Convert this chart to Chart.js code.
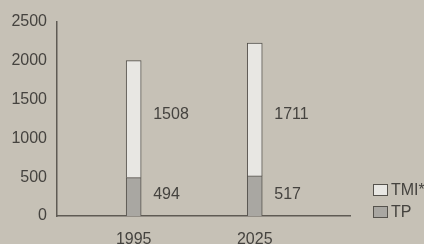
<!DOCTYPE html>
<html>
<head>
<meta charset="utf-8">
<script src="https://cdn.jsdelivr.net/npm/chart.js@4"></script>
<style>
  body { margin: 0; background: #c6c1b6; }
  #wrap { position: relative; width: 424px; height: 244px; }
  .leg { position: absolute; left: 373px; font: 16px "Liberation Sans", Arial, sans-serif; color: #45433f; white-space: nowrap; }
  .leg span { display: inline-block; width: 13px; height: 10px; border: 1px solid #55524c; margin-right: 3px; vertical-align: -1px; }
</style>
</head>
<body>
<div id="wrap">
  <canvas id="chart" width="424" height="244"></canvas>
  <div class="leg" style="top:181px"><span style="background:#e8e7e3"></span>TMI*</div>
  <div class="leg" style="top:203px"><span style="background:#a9a7a2"></span>TP</div>
</div>
<script>
const years = [1995, 2025];
const tpValues = [494, 517];
const tmiValues = [1508, 1711];
const yTicks = [0, 500, 1000, 1500, 2000, 2500];

const textColor = "#45433f";
const axisColor = "#5f5b54";

// numbers next to each bar segment
const sideLabels = {
  id: "sideLabels",
  afterDatasetsDraw(chart) {
    const ctx = chart.ctx;
    const y = chart.scales.y;
    ctx.save();
    ctx.font = '16px "Liberation Sans", Arial, sans-serif';
    ctx.fillStyle = textColor;
    ctx.textBaseline = "middle";
    const meta = chart.getDatasetMeta(0);
    meta.data.forEach((bar, i) => {
      const x = bar.x + bar.width / 2 + 12;
      ctx.fillText(String(tpValues[i]), x, y.getPixelForValue(270));
      ctx.fillText(String(tmiValues[i]), x, y.getPixelForValue(1310));
    });
    ctx.restore();
  }
};

new Chart(document.getElementById("chart"), {
  type: "bar",
  plugins: [sideLabels],
  data: {
    datasets: [
      {
        label: "TP",
        data: years.map((yr, i) => ({ x: yr, y: tpValues[i] })),
        backgroundColor: "#a9a7a2",
        borderColor: "#55524c",
        borderWidth: 1,
        barThickness: 15
      },
      {
        label: "TMI*",
        data: years.map((yr, i) => ({ x: yr, y: tmiValues[i] })),
        backgroundColor: "#e8e7e3",
        borderColor: "#55524c",
        borderWidth: 1,
        barThickness: 15
      }
    ]
  },
  options: {
    responsive: false,
    animation: false,
    layout: { padding: { top: 22, right: 74, left: 0, bottom: 0 } },
    plugins: { legend: { display: false }, tooltip: { enabled: false } },
    scales: {
      x: {
        type: "linear",
        stacked: true,
        offset: false,
        min: 1976,
        max: 2048.6,
        afterBuildTicks: (s) => { s.ticks = years.map(v => ({ value: v })); },
        afterFit: (s) => { s.height = 28; },
        ticks: {
          color: textColor,
          padding: 14,
          font: { size: 16, family: '"Liberation Sans", Arial, sans-serif' },
          callback: (v) => String(v)
        },
        grid: { display: false, drawTicks: false, offset: false },
        border: { color: axisColor, width: 1.5 }
      },
      y: {
        stacked: true,
        min: 0,
        max: 2500,
        afterBuildTicks: (s) => { s.ticks = yTicks.map(v => ({ value: v })); },
        afterFit: (s) => { s.width = 57; },
        ticks: {
          color: textColor,
          padding: 10,
          font: { size: 16, family: '"Liberation Sans", Arial, sans-serif' },
          callback: (v) => String(v)
        },
        grid: { display: false, drawTicks: false },
        border: { color: axisColor, width: 1.5 }
      }
    }
  }
});
</script>
</body>
</html>
